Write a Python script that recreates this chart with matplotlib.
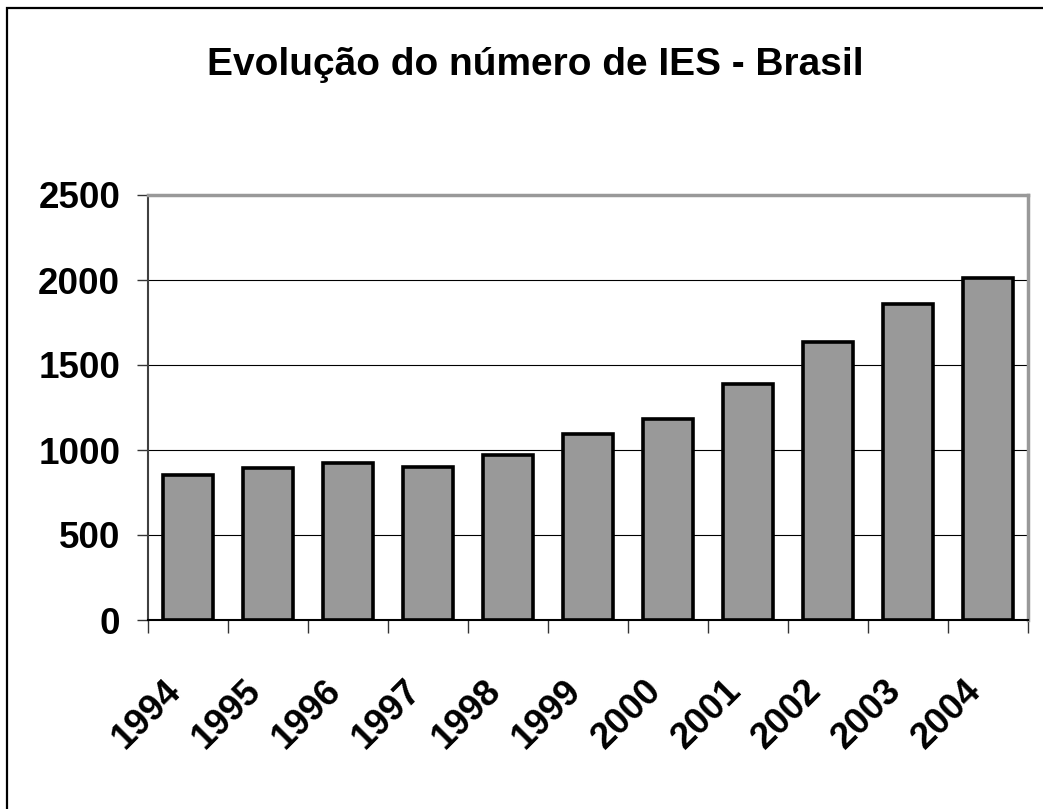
import matplotlib
matplotlib.use('Agg')
import matplotlib.pyplot as plt
import matplotlib.transforms as mtransforms
from matplotlib.patches import Rectangle

# dados (numero de IES por ano)
anos = ['1994', '1995', '1996', '1997', '1998', '1999', '2000', '2001', '2002', '2003', '2004']
ies = [851, 894, 922, 900, 973, 1097, 1180, 1391, 1637, 1859, 2013]
yticks = [0, 500, 1000, 1500, 2000, 2500]

W, H = 1043, 809
fig = plt.figure(figsize=(W / 100, H / 100), dpi=100)
fig.patch.set_facecolor('white')

# moldura externa (so topo e esquerda aparecem)
fig.patches.append(Rectangle((7 / W, -0.05), 1.2, 1 - 8 / H + 0.05, transform=fig.transFigure,
                             fill=False, edgecolor='black', linewidth=1.6))

ax = fig.add_axes([148 / W, 1 - 620 / H, (1028 - 148) / W, (620 - 195) / H])

x = range(len(anos))
ax.bar(x, ies, width=0.63, color='#999999', edgecolor='black', linewidth=2.6, zorder=3)

ax.set_xlim(-0.5, len(anos) - 0.5)
ax.set_ylim(0, 2500)
ax.set_yticks(yticks)
ax.set_yticklabels([str(v) for v in yticks], fontsize=26.5, fontweight='bold',
                   family=['Liberation Sans', 'DejaVu Sans'])
ax.yaxis.grid(True, color='black', linewidth=0.8, zorder=0)

# ticks do eixo x entre categorias
ax.set_xticks([i - 0.5 for i in range(len(anos) + 1)], minor=False)
ax.set_xticklabels([])
ax.set_xticks(list(x), minor=True)
ax.set_xticklabels(anos, minor=True, rotation=45, ha='right', va='center',
                   rotation_mode='anchor', fontsize=26.5, fontweight='bold',
                   family=['Liberation Sans', 'DejaVu Sans'])
ax.tick_params(axis='x', which='minor', length=0, pad=47)
ax.tick_params(axis='x', which='major', length=9, width=1, color='#333333', direction='out')
ax.tick_params(axis='y', length=8, width=1, color='#333333', direction='out', pad=12)

offset = mtransforms.ScaledTranslation(-12 / 100, 0, fig.dpi_scale_trans)
for lab in ax.xaxis.get_minorticklabels():
    lab.set_transform(lab.get_transform() + offset)

ax.spines['left'].set_color('#404040')
ax.spines['left'].set_linewidth(1.5)
ax.spines['bottom'].set_color('black')
ax.spines['bottom'].set_linewidth(1.5)
ax.spines['top'].set_color('#999999')
ax.spines['top'].set_linewidth(2.5)
ax.spines['right'].set_color('#999999')
ax.spines['right'].set_linewidth(2.5)
ax.set_axisbelow(True)

fig.text(535 / W, 1 - 75 / H, 'Evolução do número de IES - Brasil', ha='center', va='baseline',
         fontsize=28, fontweight='bold',
         family=['Liberation Sans Narrow', 'Liberation Sans', 'DejaVu Sans'])

fig.savefig('out.png', dpi=100)
